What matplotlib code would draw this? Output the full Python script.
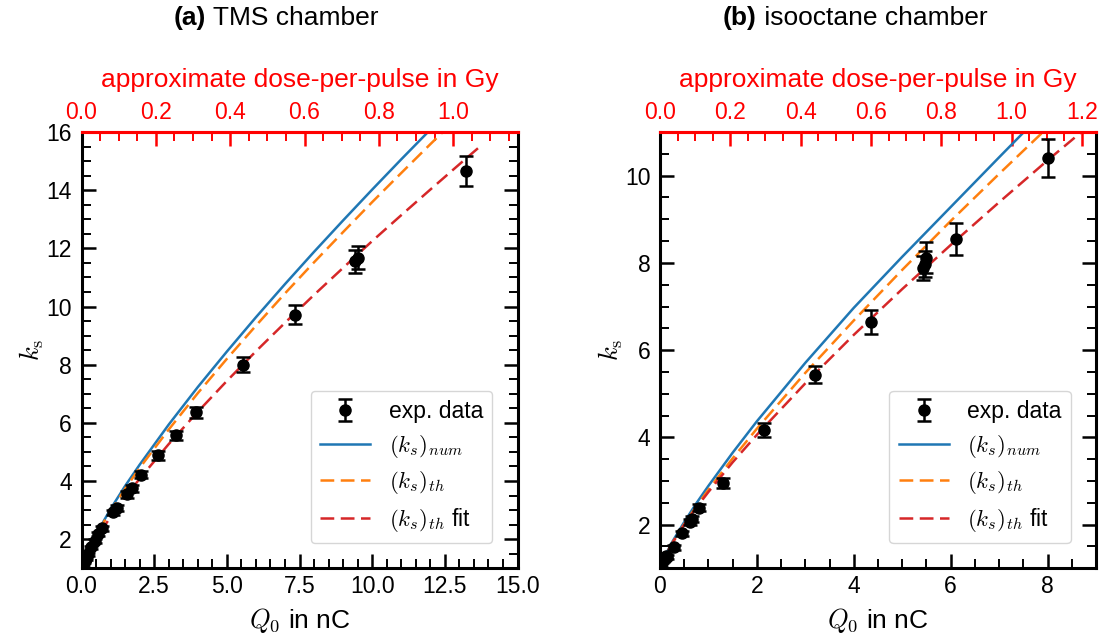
import matplotlib
matplotlib.use("Agg")
import matplotlib.pyplot as plt
from matplotlib.ticker import AutoMinorLocator, MultipleLocator, FixedLocator

plt.rcParams["font.family"] = ["Liberation Sans", "DejaVu Sans"]
plt.rcParams["mathtext.fontset"] = "cm"
plt.rcParams["font.size"] = 16.5

# ---- (a) TMS chamber: measured saturation factor vs collected charge ----
q_tms = [0.02, 0.06, 0.09, 0.14, 0.23, 0.34, 0.46, 0.58, 0.72, 1.10, 1.23,
         1.58, 1.75, 2.05, 2.64, 3.25, 3.94, 5.55, 7.36, 9.40, 9.50, 13.22]
ks_tms = [1.06, 1.14, 1.22, 1.31, 1.48, 1.72, 1.94, 2.17, 2.37, 2.92, 3.08,
          3.55, 3.75, 4.22, 4.88, 5.57, 6.36, 8.00, 9.72, 11.55, 11.68, 14.66]
err_tms = [0.03, 0.04, 0.04, 0.04, 0.05, 0.06, 0.06, 0.07, 0.08, 0.10, 0.10,
           0.12, 0.12, 0.13, 0.15, 0.16, 0.19, 0.25, 0.32, 0.40, 0.40, 0.50]

q_tms_model = [0, 0.1, 0.25, 0.5, 0.75, 1, 1.5, 2, 3, 4, 5, 6, 7, 8, 9,
               10, 11, 12, 13, 13.8]
num_tms = [1, 1.30, 1.65, 2.15, 2.60, 3.04, 3.83, 4.56, 5.94, 7.23, 8.45,
           9.63, 10.77, 11.88, 12.96, 14.02, 15.06, 16.08, 17.10, 17.90]
th_tms = [1, 1.29, 1.63, 2.12, 2.56, 2.97, 3.73, 4.45, 5.77, 7.02, 8.20,
          9.34, 10.45, 11.52, 12.56, 13.59, 14.59, 15.58, 16.55, 17.30]
fit_tms = [1, 1.27, 1.58, 2.01, 2.40, 2.76, 3.44, 4.08, 5.27, 6.38, 7.44,
           8.46, 9.44, 10.40, 11.33, 12.25, 13.14, 14.02, 14.89, 15.58]

# ---- (b) isooctane chamber ----
q_iso = [0.02, 0.05, 0.07, 0.12, 0.14, 0.28, 0.45, 0.62, 0.66, 0.80, 1.30,
         2.14, 3.19, 4.35, 5.43, 5.46, 5.49, 6.11, 8.00]
ks_iso = [1.06, 1.15, 1.18, 1.28, 1.26, 1.48, 1.80, 2.06, 2.12, 2.39, 2.96,
          4.17, 5.44, 6.65, 7.88, 7.98, 8.12, 8.55, 10.40]
err_iso = [0.03, 0.03, 0.04, 0.04, 0.04, 0.05, 0.06, 0.07, 0.07, 0.08, 0.11,
           0.16, 0.20, 0.27, 0.28, 0.30, 0.35, 0.37, 0.44]

q_iso_model = [0, 0.1, 0.25, 0.5, 0.75, 1, 1.5, 2, 3, 4, 5, 6, 7, 8, 9]
num_iso = [1, 1.28, 1.60, 2.06, 2.49, 2.89, 3.65, 4.37, 5.71, 6.97, 8.14,
           9.28, 10.42, 11.55, 12.68]
th_iso = [1, 1.27, 1.57, 2.01, 2.42, 2.80, 3.52, 4.20, 5.48, 6.68, 7.84,
          8.96, 10.04, 11.10, 12.14]
fit_iso = [1, 1.27, 1.57, 2.00, 2.39, 2.75, 3.43, 4.06, 5.24, 6.35, 7.40,
           8.41, 9.39, 10.35, 11.28]

# Gy per nC for the top axis, and the dose ticks shown there
GY_PER_NC_TMS = 0.0782
GY_PER_NC_ISO = 0.1378
gy_ticks_tms = [0.0, 0.2, 0.4, 0.6, 0.8, 1.0]
gy_ticks_iso = [0.0, 0.2, 0.4, 0.6, 0.8, 1.0, 1.2]

C_NUM, C_TH, C_FIT = "#1f77b4", "#ff7f0e", "#d62728"
DASH = (5.5, 2.6)
W, H = 1102, 641

fig = plt.figure(figsize=(W / 100, H / 100), dpi=100)
axA = fig.add_axes([81.5 / W, (H - 568.3) / H, 436 / W, 436.3 / H])
axB = fig.add_axes([660 / W, (H - 568.3) / H, 436 / W, 436.3 / H])


def panel(ax, q, ks, err, qm, num, th, fit, xlim, ylim, xmajor,
          gy_per_nc, gy_ticks):
    eb = ax.errorbar(q, ks, yerr=err, fmt="o", color="k", ms=8,
                     elinewidth=1.8, capsize=5, capthick=1.8, zorder=5)
    l1, = ax.plot(qm, num, color=C_NUM, lw=1.8)
    l2, = ax.plot(qm, th, color=C_TH, lw=1.8, ls="--", dashes=DASH)
    l3, = ax.plot(qm, fit, color=C_FIT, lw=1.8, ls="--", dashes=DASH)
    ax.set_xlim(*xlim)
    ax.set_ylim(*ylim)
    ax.xaxis.set_major_locator(MultipleLocator(xmajor))
    ax.yaxis.set_major_locator(MultipleLocator(2))
    ax.xaxis.set_minor_locator(AutoMinorLocator())
    ax.yaxis.set_minor_locator(AutoMinorLocator())
    ax.tick_params(which="both", direction="in", top=False, right=True)
    ax.tick_params(which="major", length=10, width=1.8)
    ax.tick_params(which="minor", length=6.5, width=1.4)
    ax.tick_params(axis="x", pad=5)
    ax.tick_params(axis="y", pad=7)
    for s in ax.spines.values():
        s.set_linewidth(2.2)
    ax.spines["top"].set_color("red")
    ax.set_xlabel(r"$Q_0$ in nC", fontsize=19, labelpad=6)
    ax.set_ylabel(r"$k_\mathrm{s}$", fontsize=19, labelpad=0)
    ax.legend([eb, l1, l2, l3],
              ["exp. data", r"$(k_s)_{num}$", r"$(k_s)_{th}$",
               r"$(k_s)_{th}$ fit"],
              loc="lower right", fontsize=16.5, handlelength=2.2,
              labelspacing=0.42, borderaxespad=1.1)

    sec = ax.secondary_xaxis("top", functions=(lambda x: x * gy_per_nc,
                                               lambda y: y / gy_per_nc))
    sec.xaxis.set_major_locator(FixedLocator(gy_ticks))
    sec.xaxis.set_minor_locator(AutoMinorLocator(4))
    sec.tick_params(which="both", direction="in", colors="red", pad=6)
    sec.tick_params(which="major", length=10, width=1.8)
    sec.tick_params(which="minor", length=6.5, width=1.4)
    sec.spines["top"].set_color("red")
    sec.spines["top"].set_linewidth(2.2)
    sec.set_xlabel("approximate dose-per-pulse in Gy", color="red",
                   fontsize=19, labelpad=10)


panel(axA, q_tms, ks_tms, err_tms, q_tms_model, num_tms, th_tms, fit_tms,
      (0, 15), (1, 16), 2.5, GY_PER_NC_TMS, gy_ticks_tms)
panel(axB, q_iso, ks_iso, err_iso, q_iso_model, num_iso, th_iso, fit_iso,
      (0, 9), (1, 11), 2, GY_PER_NC_ISO, gy_ticks_iso)


def title(x_px, tag, text):
    # bold panel tag followed by the regular-weight title text
    t = fig.text(x_px / W, 1 - 18 / H, tag, fontsize=19, weight="bold",
                 ha="left", va="center")
    fig.add_artist(plt.matplotlib.text.Annotation(
        " " + text, xy=(1, 0), xycoords=t, ha="left", va="bottom",
        fontsize=19))


title(174, "(a)", "TMS chamber")
title(723, "(b)", "isooctane chamber")

fig.savefig("out.png", dpi=100)
